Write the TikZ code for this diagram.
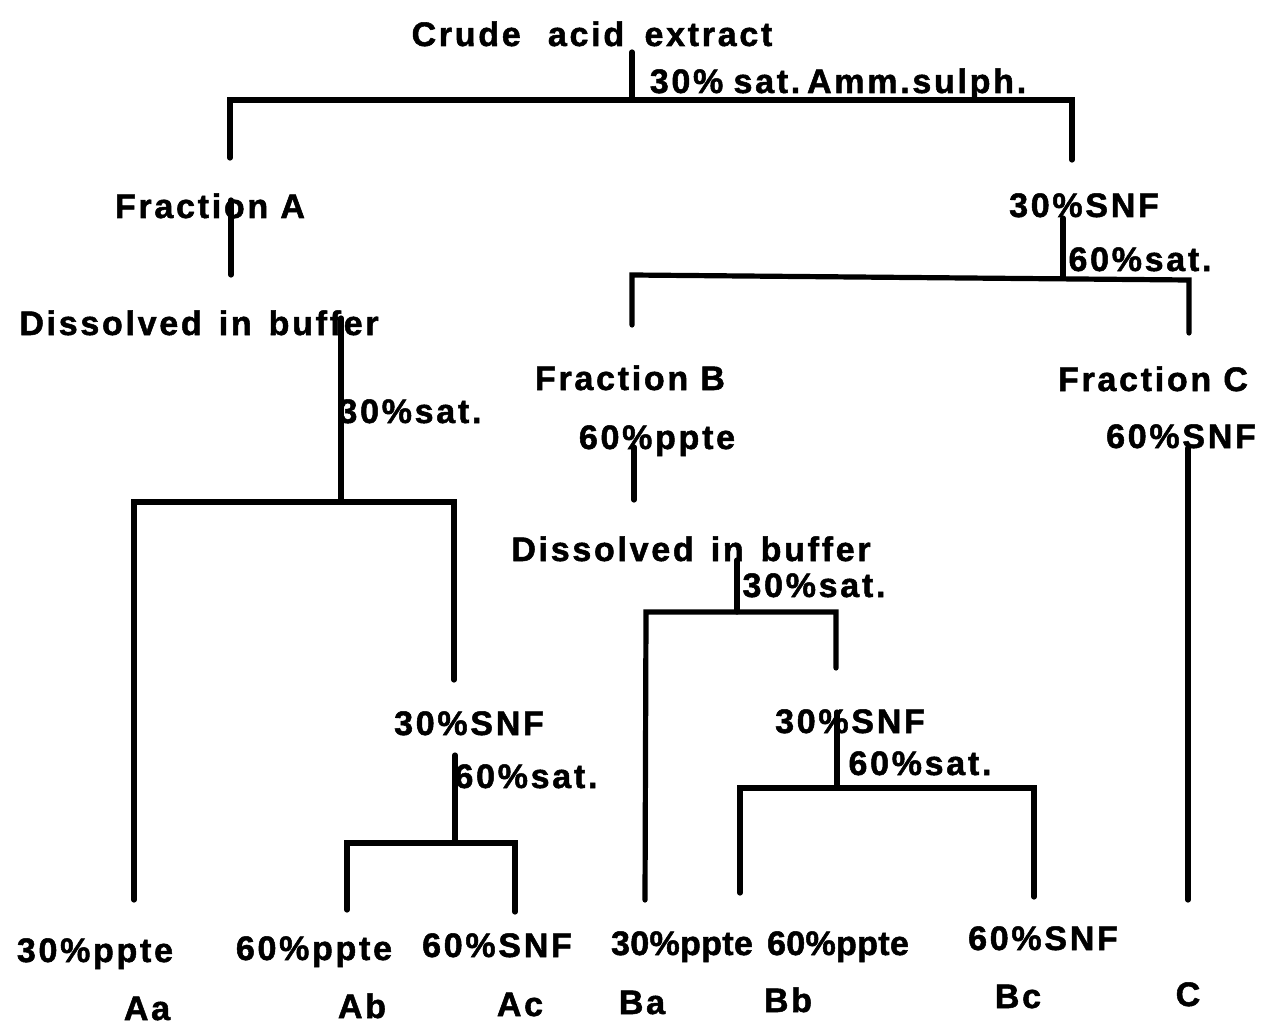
\documentclass[tikz,border=0pt]{standalone}
\usepackage{fontspec}
\setmainfont{Liberation Sans}[LetterSpace=8,BoldFeatures={FakeBold=1.5}]
\begin{document}
\begin{tikzpicture}[x=0.5pt,y=-0.5pt,
  br/.style={line width=2.6pt,line cap=round,line join=miter},
  lab/.style={anchor=base,inner sep=0pt,font=\fontsize{17}{20}\selectfont\bfseries},
  tight/.style={lab,font=\fontsize{17}{20}\selectfont\bfseries\addfontfeature{LetterSpace=1}}]
\useasboundingbox (0,0) rectangle (1262,1027);
% labels
\node[lab] (crude) at (592,46) {Crude\hspace{0.8em}acid\hspace{0.6em}extract};
\node[lab] (amm) at (838,93) {30\%\hspace{0.3em}sat.\hspace{0.2em}Amm.sulph.};
\node[lab] (fa) at (210,218) {Fraction A};
\node[lab] (dba) at (199,335) {Dissolved\hspace{0.5em}in\hspace{0.5em}buffer};
\node[lab] (sa1) at (410,423) {30\%sat.};
\node[lab] (snfA) at (469,735) {30\%SNF};
\node[lab] (sa2) at (526,788) {60\%sat.};
\node[lab] (aa1) at (95,962) {30\%ppte};
\node[lab] (ab1) at (314,960) {60\%ppte};
\node[lab] (ac1) at (497,957) {60\%SNF};
\node[lab] (aa) at (147,1020) {Aa};
\node[lab] (ab) at (362,1018) {Ab};
\node[lab] (ac) at (520,1016) {Ac};
\node[lab] (snf) at (1084,217) {30\%SNF};
\node[lab] (sr1) at (1140,271) {60\%sat.};
\node[lab] (fb) at (630,390) {Fraction B};
\node[lab] (pb) at (657,449) {60\%ppte};
\node[lab] (fc) at (1153,391) {Fraction C};
\node[lab] (sc) at (1181,448) {60\%SNF};
\node[lab] (dbb) at (691,561) {Dissolved\hspace{0.5em}in\hspace{0.5em}buffer};
\node[lab] (sb1) at (814,597) {30\%sat.};
\node[lab] (snfB) at (850,733) {30\%SNF};
\node[lab] (sb2) at (920,775) {60\%sat.};
\node[tight] (ba1) at (682,955) {30\%ppte};
\node[tight] (bb1) at (838,955) {60\%ppte};
\node[lab] (bc1) at (1043,950) {60\%SNF};
\node[lab] (ba) at (642,1014) {Ba};
\node[lab] (bb) at (788,1012) {Bb};
\node[lab] (bc) at (1018,1008) {Bc};
\node[lab] (c) at (1188,1006) {C};
% junction coordinates
\coordinate (t0) at (632,52);
\coordinate (t1) at (632,100);
\coordinate (tl) at (230,100);
\coordinate (tr) at (1072,100);
\coordinate (tld) at (230,158);
\coordinate (trd) at (1072,160);
\coordinate (a0) at (231,200);
\coordinate (a1) at (231,275);
\coordinate (d0) at (341,318);
\coordinate (d1) at (341,502);
\coordinate (dl) at (134,502);
\coordinate (dr) at (454,502);
\coordinate (dld) at (134,900);
\coordinate (drd) at (454,680);
\coordinate (s0) at (455,755);
\coordinate (s1) at (455,843);
\coordinate (sl) at (347,843);
\coordinate (sr) at (515,843);
\coordinate (sld) at (347,910);
\coordinate (srd) at (515,912);
\coordinate (r0) at (1063,218);
\coordinate (r1) at (1063,277);
\coordinate (rl) at (632,275);
\coordinate (rr) at (1189,280);
\coordinate (rld) at (632,325);
\coordinate (rrd) at (1189,333);
\coordinate (b0) at (634,447);
\coordinate (b1) at (634,500);
\coordinate (e0) at (737,560);
\coordinate (e1) at (737,612);
\coordinate (el) at (646,612);
\coordinate (er) at (836,612);
\coordinate (eld) at (645,900);
\coordinate (erd) at (836,668);
\coordinate (f0) at (837,712);
\coordinate (f1) at (837,788);
\coordinate (fl) at (740,788);
\coordinate (fr) at (1034,788);
\coordinate (fld) at (740,893);
\coordinate (frd) at (1034,897);
\coordinate (c0) at (1188,448);
\coordinate (c1) at (1188,900);
% branches
\draw[br] (t0) -- (t1);
\draw[br] (tld) -- (tl) -- (tr) -- (trd);
\draw[br] (a0) -- (a1);
\draw[br] (d0) -- (d1);
\draw[br] (dld) -- (dl) -- (dr) -- (drd);
\draw[br] (s0) -- (s1);
\draw[br] (sld) -- (sl) -- (sr) -- (srd);
\draw[br] (r0) -- (r1);
\draw[br] (rld) -- (rl) -- (rr) -- (rrd);
\draw[br] (b0) -- (b1);
\draw[br] (e0) -- (e1);
\draw[br] (eld) -- (el) -- (er) -- (erd);
\draw[br] (f0) -- (f1);
\draw[br] (fld) -- (fl) -- (fr) -- (frd);
\draw[br] (c0) -- (c1);
\end{tikzpicture}
\end{document}
